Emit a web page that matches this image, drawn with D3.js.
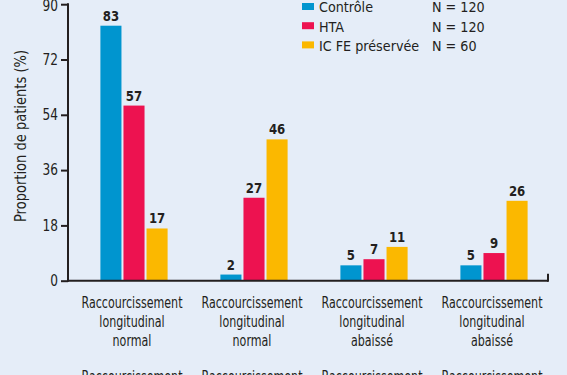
<!DOCTYPE html>
<html><head><meta charset="utf-8">
<script src="https://cdn.jsdelivr.net/npm/d3@7/dist/d3.min.js"></script>
<style>
html,body{margin:0;padding:0;background:#e5edf8;}
svg{display:block;}
text{font-family:"DejaVu Sans Condensed",sans-serif;fill:#231f20;}
</style></head>
<body><svg id="c" width="567" height="375"></svg>
<script>
const categories = [
  ["Raccourcissement","longitudinal","normal"],
  ["Raccourcissement","longitudinal","normal"],
  ["Raccourcissement","longitudinal","abaissé"],
  ["Raccourcissement","longitudinal","abaissé"]
];
const seriesNames = ["Contrôle","HTA","IC FE préservée"];
const seriesN = ["N = 120","N = 120","N = 60"];
const controle = [83, 2, 5, 5];
const hta = [57, 27, 7, 9];
const icfe = [17, 46, 11, 26];
const yTicks = [0, 18, 36, 54, 72, 90];
const colors = ["#0095cf","#ed1250","#fbb800"];

const svg = d3.select("#c");
const values = [controle, hta, icfe];
const y = d3.scaleLinear().domain([0, 90]).range([280.7, 4.2]);
const x0 = d3.scaleBand().domain(d3.range(categories.length)).range([74, 554]).paddingInner(0.44).paddingOuter(0.22);
const x1 = d3.scaleBand().domain(d3.range(seriesNames.length)).range([0, x0.bandwidth()]).paddingInner(0.087);
const axisX = 68;

function squeeze(sel, f) {
  sel.each(function() {
    const w = this.getComputedTextLength();
    d3.select(this).attr("textLength", w * f).attr("lengthAdjust", "spacingAndGlyphs");
  });
}

// bars
const g = svg.append("g");
categories.forEach((c, i) => {
  values.forEach((s, j) => {
    const v = s[i];
    const bx = x0(i) + x1(j);
    g.append("rect").attr("x", bx).attr("y", y(v)).attr("width", x1.bandwidth())
      .attr("height", y(0) - y(v)).attr("fill", colors[j]);
    g.append("text").attr("x", bx + x1.bandwidth()/2).attr("y", y(v) - 5)
      .attr("text-anchor", "middle").attr("font-weight", "bold").attr("font-size", 14.5)
      .text(v);
  });
});
squeeze(g.selectAll("text"), 0.9);

// y axis
const yAxis = d3.axisLeft(y).tickValues(yTicks).tickSize(7).tickPadding(3);
const ya = svg.append("g").attr("transform", `translate(${axisX},0)`).call(yAxis);
ya.select(".domain").remove();
ya.selectAll(".tick line").attr("stroke", "#231f20").attr("stroke-width", 2);
ya.selectAll(".tick text").attr("font-size", 15).attr("fill", "#231f20")
  .style("font-family", "'DejaVu Sans Condensed', sans-serif");
ya.selectAll(".tick").filter(d => d === 90).select("text").attr("dy", "0.45em");
squeeze(ya.selectAll(".tick text"), 0.9);
svg.append("line").attr("x1", axisX).attr("x2", axisX).attr("y1", y(90) - 1).attr("y2", y(0) + 1)
  .attr("stroke", "#231f20").attr("stroke-width", 2);
svg.append("line").attr("x1", axisX - 1).attr("x2", 548).attr("y1", y(0)).attr("y2", y(0))
  .attr("stroke", "#231f20").attr("stroke-width", 2);
svg.append("line").attr("x1", 548).attr("x2", 548).attr("y1", y(0) + 1).attr("y2", y(0) - 7)
  .attr("stroke", "#231f20").attr("stroke-width", 2);

// y label
const yl = svg.append("text").attr("transform", "translate(26,136) rotate(-90)")
  .attr("text-anchor", "middle").attr("font-size", 15).text("Proportion de patients (%)");
yl.attr("textLength", 172).attr("lengthAdjust", "spacingAndGlyphs");

// category labels
const cl = svg.append("g");
categories.forEach((c, i) => {
  const cx = x0(i) + x0.bandwidth()/2 - 2;
  c.forEach((line, k) => {
    cl.append("text").attr("x", cx).attr("y", 308 + k*19).attr("text-anchor", "middle")
      .attr("font-size", 15.5).text(line);
  });
  cl.append("text").attr("x", cx).attr("y", 381.5).attr("text-anchor", "middle")
    .attr("font-size", 15.5).text(c[0]);
});
const refW = cl.select("text").node().getComputedTextLength();
squeeze(cl.selectAll("text"), 101 / refW);

// legend
const lg = svg.append("g");
seriesNames.forEach((n, j) => {
  const ly = 6.5 + j*19.2;
  lg.append("rect").attr("x", 302).attr("y", ly - 3.5).attr("width", 12).attr("height", 7).attr("fill", colors[j]);
  lg.append("text").attr("x", 319).attr("y", ly + 5.8).attr("font-size", 14).text(n);
  lg.append("text").attr("x", 432).attr("y", ly + 5.8).attr("font-size", 14).text(seriesN[j]);
});
const lw = lg.select("text").node().getComputedTextLength();
squeeze(lg.selectAll("text"), 54 / lw);
</script></body></html>
